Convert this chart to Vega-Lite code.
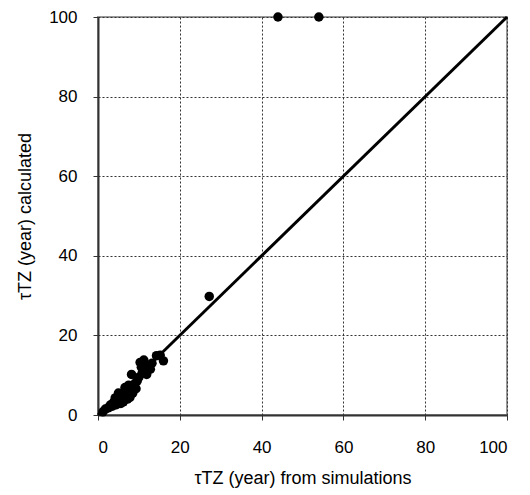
{
  "$schema": "https://vega.github.io/schema/vega-lite/v6.json",
  "width": 409,
  "height": 398,
  "autosize": {"type": "none"},
  "padding": {"left": 98, "top": 17, "right": 23, "bottom": 80},
  "config": {
    "font": "Liberation Sans",
    "view": {"stroke": "#999999", "strokeWidth": 2},
    "axis": {
      "labelFont": "Liberation Sans",
      "titleFont": "Liberation Sans",
      "labelFontSize": 17,
      "titleFontSize": 18,
      "labelColor": "#000000",
      "titleColor": "#000000",
      "titleFontWeight": "normal",
      "domainColor": "#333333",
      "domainWidth": 2,
      "tickColor": "#333333",
      "tickSize": 5,
      "gridColor": "#333333",
      "gridDash": [2, 2],
      "gridWidth": 1,
      "gridOpacity": 1
    }
  },
  "datasets": {
    "points": [
      {"sim": 44, "calc": 100},
      {"sim": 54, "calc": 100},
      {"sim": 27.2, "calc": 29.8},
      {"sim": 1.2, "calc": 0.8},
      {"sim": 1.8, "calc": 1.5},
      {"sim": 2.5, "calc": 1.8},
      {"sim": 3, "calc": 2.5},
      {"sim": 3.5, "calc": 2.2},
      {"sim": 3.8, "calc": 3.2},
      {"sim": 4.2, "calc": 4.3},
      {"sim": 4.5, "calc": 2.6},
      {"sim": 4.8, "calc": 3},
      {"sim": 5, "calc": 5.5},
      {"sim": 5.3, "calc": 3.8},
      {"sim": 5.6, "calc": 2.9},
      {"sim": 5.8, "calc": 4.6},
      {"sim": 6.2, "calc": 3.3},
      {"sim": 6.4, "calc": 5.8},
      {"sim": 6.6, "calc": 6.9},
      {"sim": 6.8, "calc": 5.2},
      {"sim": 7.2, "calc": 4},
      {"sim": 7.5, "calc": 7.5},
      {"sim": 7.8, "calc": 4.4},
      {"sim": 8, "calc": 6.2},
      {"sim": 8.2, "calc": 10.2},
      {"sim": 8.5, "calc": 5.5},
      {"sim": 8.8, "calc": 7.2},
      {"sim": 9, "calc": 7.7},
      {"sim": 9.3, "calc": 6.6},
      {"sim": 9.6, "calc": 8.6},
      {"sim": 10, "calc": 9.5},
      {"sim": 10.3, "calc": 13.2},
      {"sim": 10.6, "calc": 12},
      {"sim": 10.8, "calc": 10.5},
      {"sim": 11.2, "calc": 13.8},
      {"sim": 11.5, "calc": 11.2},
      {"sim": 11.9, "calc": 10.2},
      {"sim": 12.3, "calc": 12.5},
      {"sim": 12.8, "calc": 11.5},
      {"sim": 13.2, "calc": 13},
      {"sim": 14.3, "calc": 14.9},
      {"sim": 15.2, "calc": 15},
      {"sim": 16, "calc": 13.6}
    ],
    "diag": [
      {"sim": 0, "calc": 0},
      {"sim": 100, "calc": 100}
    ]
  },
  "layer": [
    {
      "data": {"name": "diag"},
      "mark": {"type": "line", "color": "#000000", "strokeWidth": 3},
      "encoding": {
        "x": {
          "field": "sim", "type": "quantitative",
          "scale": {"domain": [0, 100], "nice": false},
          "axis": {"values": [0, 20, 40, 60, 80, 100], "title": "τTZ (year) from simulations", "labelPadding": 19, "titlePadding": 14}
        },
        "y": {
          "field": "calc", "type": "quantitative",
          "scale": {"domain": [0, 100], "nice": false},
          "axis": {"values": [0, 20, 40, 60, 80, 100], "title": "τTZ (year) calculated", "labelPadding": 16, "titlePadding": 14}
        }
      }
    },
    {
      "data": {"name": "points"},
      "mark": {"type": "circle", "color": "#000000", "opacity": 1, "size": 90},
      "encoding": {
        "x": {"field": "sim", "type": "quantitative"},
        "y": {"field": "calc", "type": "quantitative"}
      }
    }
  ]
}
